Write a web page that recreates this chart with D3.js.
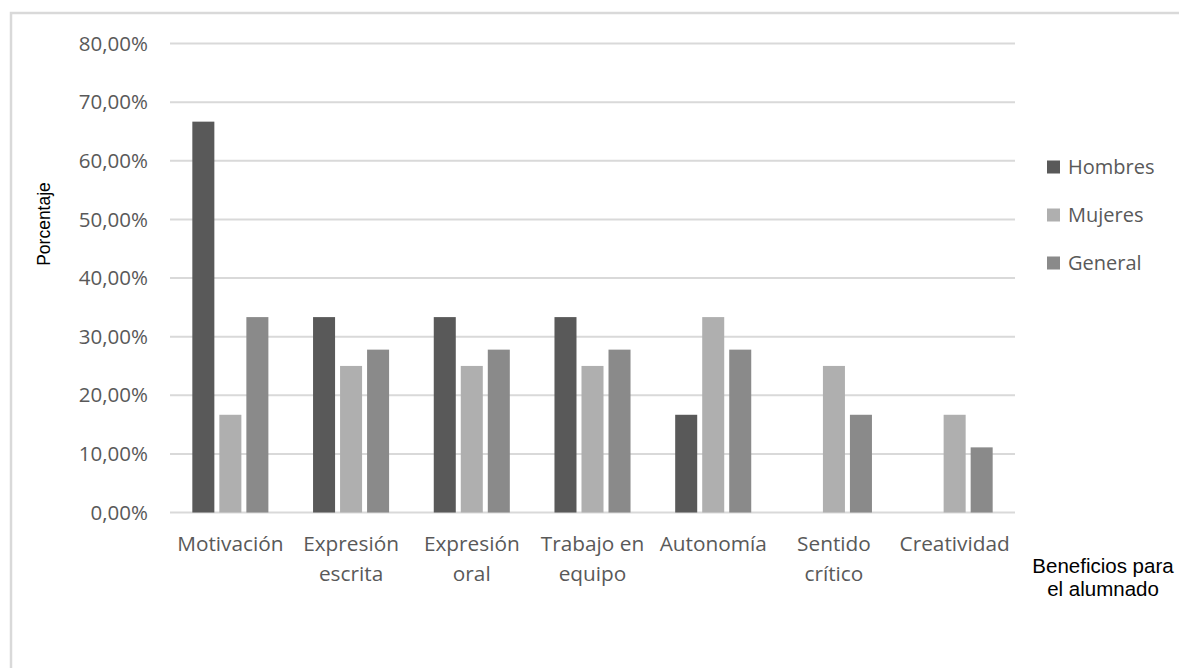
<!DOCTYPE html>
<html>
<head>
<meta charset="utf-8">
<script src="https://cdn.jsdelivr.net/npm/d3@7"></script>
<style>
  body { margin: 0; background: #fff; }
  svg { display: block; }
</style>
</head>
<body>
<script>
/*
SET UP
*/
const w = 1179
const h = 668
const m = ({top: 43.5, right: 164, bottom: 155.5, left: 170})

const categories = [
  ["Motivación"],
  ["Expresión", "escrita"],
  ["Expresión", "oral"],
  ["Trabajo en", "equipo"],
  ["Autonomía"],
  ["Sentido", "crítico"],
  ["Creatividad"]
]
const series = ["Hombres", "Mujeres", "General"]
const hombres = [66.67, 33.33, 33.33, 33.33, 16.67, 0, 0]
const mujeres = [16.67, 25, 25, 25, 33.33, 25, 16.67]
const general = [33.33, 27.78, 27.78, 27.78, 27.78, 16.67, 11.11]
const yTicks = [0, 10, 20, 30, 40, 50, 60, 70, 80]
const colors = ["#595959", "#afafaf", "#8a8a8a"]

const values = [hombres, mujeres, general]
const rows = categories.map((c, i) => ({
  key: i,
  label: c,
  vals: series.map((s, j) => ({series: s, j: j, v: values[j][i]}))
}))

const svg = d3.select("body")
  .append("svg")
  .attr("width", w)
  .attr("height", h)

// outer frame
svg.append("rect")
  .attr("x", 11)
  .attr("y", 13)
  .attr("width", w + 20)
  .attr("height", h + 20)
  .attr("fill", "none")
  .attr("stroke", "#d9d9d9")
  .attr("stroke-width", 2.5)

/*
SCALES
*/
let x0 = d3.scaleBand()
  .domain(rows.map(d => d.key))
  .range([m.left, w - m.right])
  .paddingInner(0.37)
  .paddingOuter(0.185)

let x1 = d3.scaleBand()
  .domain(series)
  .range([0, x0.bandwidth()])
  .paddingInner(0.185)

let y = d3.scaleLinear()
  .domain([0, 80])
  .range([h - m.bottom, m.top])

/*
GRID + Y AXIS
*/
const fmt = d => d3.format(".2f")(d).replace(".", ",") + "%"

svg.append("g")
  .attr("class", "grid")
  .selectAll("line")
  .data(yTicks)
  .join("line")
  .attr("x1", m.left)
  .attr("x2", w - m.right)
  .attr("y1", d => y(d))
  .attr("y2", d => y(d))
  .attr("stroke", "#d9d9d9")
  .attr("stroke-width", 2)

svg.append("g")
  .selectAll("text")
  .data(yTicks)
  .join("text")
  .attr("x", 148)
  .attr("y", d => y(d))
  .attr("dy", "0.35em")
  .attr("text-anchor", "end")
  .attr("font-family", "'Open Sans', sans-serif")
  .attr("font-size", 20.5)
  .attr("fill", "#595959")
  .text(fmt)

/*
BARS
*/
svg.append("g")
  .selectAll("g")
  .data(rows)
  .join("g")
  .attr("transform", d => `translate(${x0(d.key)},0)`)
  .selectAll("rect")
  .data(d => d.vals)
  .join("rect")
  .attr("x", d => x1(d.series))
  .attr("y", d => y(d.v))
  .attr("width", x1.bandwidth())
  .attr("height", d => y(0) - y(d.v))
  .attr("fill", d => colors[d.j])

/*
CATEGORY LABELS
*/
svg.append("g")
  .selectAll("text")
  .data(rows)
  .join("text")
  .attr("x", d => x0(d.key) + x0.bandwidth() / 2)
  .attr("y", 551)
  .attr("text-anchor", "middle")
  .attr("font-family", "'Open Sans', sans-serif")
  .attr("font-size", 20.8)
  .attr("fill", "#595959")
  .selectAll("tspan")
  .data(d => d.label)
  .join("tspan")
  .attr("x", function() { return this.parentNode.getAttribute("x") })
  .attr("dy", (d, i) => i === 0 ? 0 : 29.5)
  .text(d => d)

/*
AXIS TITLES
*/
svg.append("text")
  .attr("transform", "translate(50,224) rotate(-90)")
  .attr("text-anchor", "middle")
  .attr("font-family", "'Liberation Sans', Arial, sans-serif")
  .attr("font-size", 17.5)
  .attr("fill", "#000")
  .text("Porcentaje")

svg.append("text")
  .attr("x", 1103)
  .attr("y", 573)
  .attr("text-anchor", "middle")
  .attr("font-family", "'Liberation Sans', Arial, sans-serif")
  .attr("font-size", 20.5)
  .attr("fill", "#000")
  .selectAll("tspan")
  .data(["Beneficios para", "el alumnado"])
  .join("tspan")
  .attr("x", 1103)
  .attr("dy", (d, i) => i === 0 ? 0 : 22.5)
  .text(d => d)

/*
LEGEND
*/
const legend = svg.append("g")
  .selectAll("g")
  .data(series)
  .join("g")
  .attr("transform", (d, i) => `translate(1047,${160.5 + i * 48})`)

legend.append("rect")
  .attr("width", 13)
  .attr("height", 13)
  .attr("fill", (d, i) => colors[i])

legend.append("text")
  .attr("x", 21)
  .attr("y", 13)
  .attr("font-family", "'Open Sans', sans-serif")
  .attr("font-size", 20)
  .attr("fill", "#595959")
  .text(d => d)
</script>
</body>
</html>
